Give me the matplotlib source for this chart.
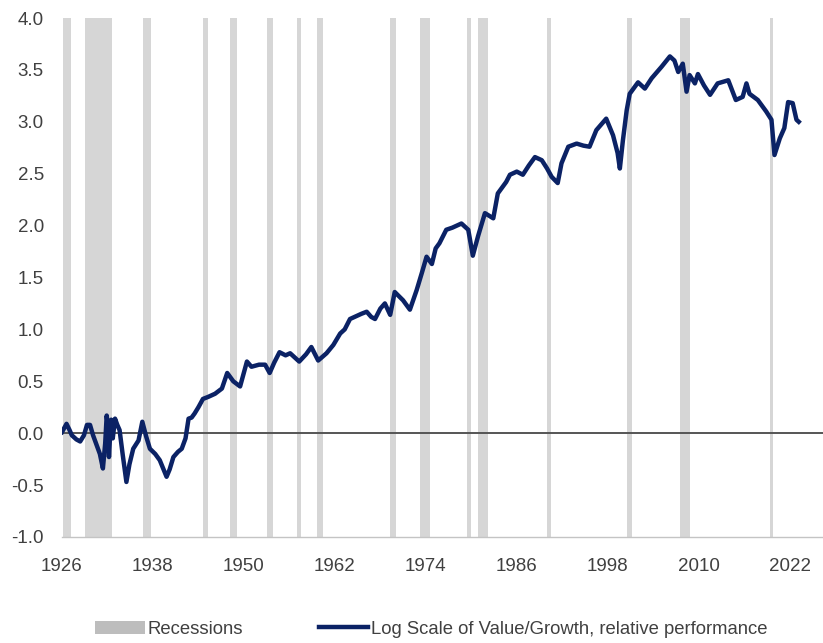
import matplotlib
matplotlib.use("Agg")
import matplotlib.pyplot as plt
from matplotlib.patches import Patch
from matplotlib.lines import Line2D

plt.rcParams['font.family'] = ['Liberation Sans', 'DejaVu Sans']

# value/growth relative performance (log scale)
years = [1926.0, 1926.3, 1926.6, 1927.0, 1927.3, 1927.9, 1928.4, 1928.9, 1929.3, 1929.7,
         1930.1, 1930.6, 1931.0, 1931.4, 1931.7, 1931.9, 1932.1, 1932.2, 1932.4, 1932.5,
         1932.7, 1933.0, 1933.3, 1933.6, 1934.0, 1934.5, 1934.9, 1935.4, 1936.1, 1936.6,
         1937.1, 1937.6, 1938.3, 1938.9, 1939.4, 1939.8, 1940.2, 1940.7, 1941.3, 1941.8,
         1942.3, 1942.7, 1943.1, 1943.5, 1944.0, 1944.6, 1945.3, 1946.2, 1947.1, 1947.8,
         1948.6, 1949.5, 1950.1, 1950.4, 1951.0, 1952.0, 1952.8, 1953.4, 1954.0, 1954.7,
         1955.5, 1956.1, 1957.3, 1958.2, 1958.9, 1959.8, 1960.9, 1961.8, 1962.7, 1963.3,
         1964.0, 1965.5, 1966.2, 1966.8, 1967.3, 1968.0, 1968.6, 1969.3, 1969.9, 1971.0,
         1971.9, 1972.8, 1973.5, 1974.1, 1974.8, 1975.3, 1975.8, 1976.7, 1977.5, 1978.7,
         1979.6, 1980.2, 1980.9, 1981.8, 1982.9, 1983.5, 1984.6, 1985.1, 1986.0, 1986.8,
         1987.6, 1988.4, 1989.3, 1990.0, 1990.6, 1991.4, 1991.9, 1992.8, 1993.9, 1994.8,
         1995.6, 1996.5, 1997.8, 1998.7, 1999.3, 1999.6, 2000.0, 2000.5, 2000.9, 2002.0,
         2002.9, 2003.8, 2005.1, 2006.2, 2006.8, 2007.3, 2007.9, 2008.4, 2008.8, 2009.5,
         2009.9, 2010.7, 2011.5, 2012.5, 2013.9, 2014.9, 2015.8, 2016.3, 2016.7, 2017.8,
         2018.9, 2019.6, 2020.0, 2020.7, 2021.3, 2021.8, 2022.4, 2022.9, 2023.2]
values = [0.01, 0.05, 0.09, 0.03, -0.02, -0.06, -0.08, -0.02, 0.08, 0.08,
          -0.02, -0.12, -0.20, -0.34, -0.10, 0.17, 0.05, -0.23, 0.05, 0.13,
          -0.05, 0.14, 0.08, 0.03, -0.20, -0.47, -0.30, -0.15, -0.07, 0.11,
          -0.03, -0.15, -0.20, -0.26, -0.35, -0.42, -0.35, -0.23, -0.18, -0.15,
          -0.05, 0.14, 0.15, 0.19, 0.25, 0.33, 0.35, 0.38, 0.43, 0.58,
          0.50, 0.45, 0.61, 0.69, 0.64, 0.66, 0.66, 0.58, 0.68, 0.78,
          0.75, 0.77, 0.69, 0.76, 0.83, 0.70, 0.77, 0.85, 0.96, 1.00,
          1.10, 1.15, 1.17, 1.12, 1.10, 1.20, 1.25, 1.14, 1.36, 1.28,
          1.19, 1.38, 1.55, 1.70, 1.63, 1.78, 1.83, 1.96, 1.98, 2.02,
          1.96, 1.71, 1.90, 2.12, 2.07, 2.31, 2.42, 2.49, 2.52, 2.49,
          2.58, 2.66, 2.63, 2.55, 2.47, 2.41, 2.60, 2.76, 2.79, 2.77,
          2.76, 2.92, 3.03, 2.87, 2.70, 2.55, 2.82, 3.11, 3.27, 3.38,
          3.32, 3.42, 3.53, 3.63, 3.59, 3.48, 3.56, 3.29, 3.45, 3.37,
          3.46, 3.35, 3.26, 3.37, 3.40, 3.21, 3.24, 3.37, 3.27, 3.21,
          3.10, 3.02, 2.68, 2.84, 2.94, 3.19, 3.18, 3.02, 3.00]

# recession periods (start, end)
rec_start = [1926.2, 1929.0, 1936.7, 1944.6, 1948.2, 1953.0, 1957.0, 1959.7,
             1969.3, 1973.2, 1979.4, 1980.9, 1990.0, 2000.6, 2007.5, 2019.4]
rec_end = [1927.2, 1932.6, 1937.8, 1945.2, 1949.1, 1953.8, 1957.6, 1960.5,
           1970.1, 1974.5, 1979.9, 1982.2, 1990.5, 2001.2, 2008.8, 2019.8]

xticks = [1926, 1938, 1950, 1962, 1974, 1986, 1998, 2010, 2022]
yticks = [-1.0, -0.5, 0.0, 0.5, 1.0, 1.5, 2.0, 2.5, 3.0, 3.5, 4.0]

navy = '#0b2265'
grey = '#d6d6d6'
txt = '#404040'

fig = plt.figure(figsize=(8.23, 6.43), dpi=100)
ax = fig.add_axes([0.0753, 0.1649, 0.9247, 0.8071])

for s, e in zip(rec_start, rec_end):
    ax.axvspan(s, e, color=grey, lw=0, zorder=1)

ax.axhline(0, color='#555555', lw=1.4, zorder=2)
ax.plot(years, values, color=navy, lw=3.2, zorder=3, solid_joinstyle='round')

ax.set_xlim(1926, 2026.4)
ax.set_ylim(-1.0, 4.0)
ax.set_xticks(xticks)
ax.set_yticks(yticks)
ax.set_yticklabels(['%.1f' % v for v in yticks])

for sp in ['top', 'right', 'left']:
    ax.spines[sp].set_visible(False)
ax.spines['bottom'].set_color('#c4c4c4')
ax.spines['bottom'].set_linestyle((0, (2, 1)))
ax.spines['bottom'].set_linewidth(1)
ax.tick_params(length=0, labelsize=13.5, colors=txt)
ax.tick_params(axis='y', pad=13)
ax.tick_params(axis='x', pad=15)

handles = [Patch(facecolor='#bdbdbd', edgecolor='none', label='Recessions'),
           Line2D([0], [0], color=navy, lw=3.2, label='Log Scale of Value/Growth, relative performance')]
fig.legend(handles=handles, loc='lower center', bbox_to_anchor=(0.524, -0.018), ncol=2,
           frameon=False, fontsize=13.3, labelcolor=txt, handlelength=2.7, handleheight=0.75,
           handletextpad=0.15, columnspacing=4.1)

fig.savefig('out.png', dpi=100)
